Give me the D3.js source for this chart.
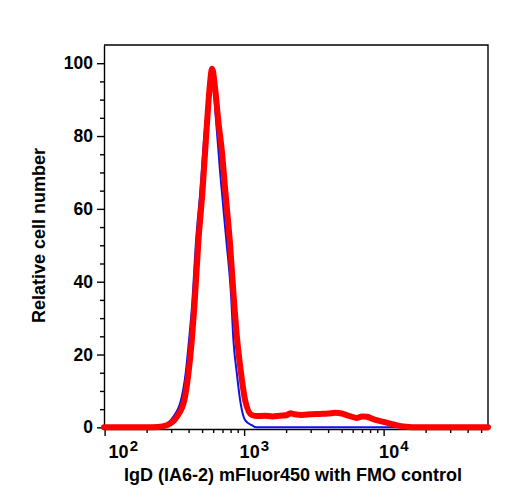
<!DOCTYPE html>
<html>
<head>
<meta charset="utf-8">
<script src="https://cdn.jsdelivr.net/npm/d3@7"></script>
<style>
    body { margin: 0; background: #fff; }
    svg { display: block; font-family: "Liberation Sans", Arial, sans-serif; font-weight: bold; }
    .axis path, .axis line { stroke: #000; stroke-width: 1.4; }
    .axis text { font-size: 17.5px; font-weight: bold; fill: #000; font-family: "Liberation Sans", Arial, sans-serif; }
    .axis--x text { font-size: 18px; }
    .line { fill: none; stroke-linejoin: round; stroke-linecap: round; }
</style>
</head>
<body>
<div id="chart"></div>
<script>

// FMO control (blue)
var fmoX = [99, 150, 200, 240, 258, 305, 353, 381, 403, 423, 453, 484, 525, 560, 590, 630, 673, 743, 807, 838, 887, 936, 1016, 1135, 1219, 2000, 10000, 56000];
var fmoY = [0, 0, 0, 0, 0.3, 2.5, 7.5, 14.8, 24, 33.1, 51.5, 64.3, 82.6, 92, 96, 84, 70, 52, 36, 24, 14.8, 7.5, 2, 0.6, 0, 0, 0, 0];

// IgD stained (red)
var igdX = [99, 150, 200, 240, 279, 329, 373, 399, 422, 440, 471, 502, 540, 565, 590, 620, 654, 692, 731, 794, 852, 887, 951, 1016, 1135, 1250, 1400, 1600, 1800, 2000, 2150, 2300, 2600, 3000, 3500, 4000, 4500, 5000, 5500, 6400, 7000, 7600, 8500, 10000, 11500, 13000, 15000, 16300, 30000, 56000];
var igdY = [0, 0, 0, 0.1, 0.6, 2.9, 7.5, 14.8, 24, 33.1, 51.5, 64.3, 82.6, 93, 98.5, 93, 84, 76, 65.5, 50, 33.1, 25, 14.8, 7.5, 3.4, 3.1, 3.2, 3.0, 3.2, 3.3, 3.9, 3.6, 3.4, 3.6, 3.7, 3.8, 4.0, 3.8, 3.3, 2.6, 3.0, 2.9, 2.2, 1.5, 0.9, 0.4, 0.1, 0, 0, 0];

var yMajor = [0, 20, 40, 60, 80, 100];
var yMinor = [5, 10, 15, 25, 30, 35, 45, 50, 55, 65, 70, 75, 85, 90, 95];
var xMajor = [100, 1000, 10000];
var xMinor = [200, 300, 400, 500, 600, 700, 800, 900,
              2000, 3000, 4000, 5000, 6000, 7000, 8000, 9000,
              20000, 30000, 40000, 50000];

var xTitle = "IgD (IA6-2) mFluor450 with FMO control";
var yTitle = "Relative cell number";

var W = 508, H = 500;
var margin = {top: 45, right: 20, bottom: 71, left: 104}
    , width = W - margin.left - margin.right
    , height = H - margin.top - margin.bottom;

var svg = d3.select("#chart").append("svg")
    .attr("width", W)
    .attr("height", H);

var g = svg.append("g")
    .attr("transform", "translate(" + margin.left + "," + margin.top + ")");

var x = d3.scaleLog()
    .domain([99, 56000])
    .range([0, width]);

var y = d3.scaleLinear()
    .domain([-0.45, 105])
    .range([height, 0]);

// frame (top and right)
g.append("path")
    .attr("d", "M0,0H" + width + "V" + height)
    .attr("fill", "none")
    .attr("stroke", "#000")
    .attr("stroke-width", 1.4);

// y axis
g.append("g")
    .attr("class", "axis axis--y")
    .call(d3.axisLeft(y)
        .tickValues(yMajor)
        .tickSizeInner(7)
        .tickSizeOuter(0)
        .tickPadding(4)
        .tickFormat(d3.format("d")));

g.append("g")
    .attr("class", "axis axis--y-minor")
    .call(d3.axisLeft(y)
        .tickValues(yMinor)
        .tickSizeInner(4)
        .tickSizeOuter(0)
        .tickFormat(""))
    .select(".domain").remove();

// x axis
var xAxisG = g.append("g")
    .attr("class", "axis axis--x")
    .attr("transform", "translate(0," + height + ")")
    .call(d3.axisBottom(x)
        .tickValues(xMajor)
        .tickSizeInner(7)
        .tickSizeOuter(0)
        .tickFormat(""));

xAxisG.selectAll(".tick").each(function(d) {
    var tx = d > 100 ? -5 : 3.5;
    var t = d3.select(this).append("text")
        .attr("x", tx)
        .attr("y", 29.3)
        .attr("text-anchor", "start");
    t.append("tspan").text("10");
    t.append("tspan")
        .attr("dx", 1)
        .attr("dy", -7)
        .style("font-size", "15px")
        .text(Math.round(Math.log10(d)));
});

g.append("g")
    .attr("class", "axis axis--x-minor")
    .attr("transform", "translate(0," + height + ")")
    .call(d3.axisBottom(x)
        .tickValues(xMinor)
        .tickSizeInner(4)
        .tickSizeOuter(0)
        .tickFormat(""))
    .select(".domain").remove();

// curves
var line_gen = d3.line()
    .x(d => x(d[0]))
    .y(d => y(d[1]))
    .curve(d3.curveMonotoneX);

g.append("path")
    .attr("class", "line fmo")
    .attr("d", line_gen(d3.zip(fmoX, fmoY)))
    .attr("stroke", "#1010e8")
    .attr("stroke-width", 2);

g.append("path")
    .attr("class", "line igd")
    .attr("d", line_gen(d3.zip(igdX, igdY)))
    .attr("stroke", "#ff0000")
    .attr("stroke-width", 6);

// titles
svg.append("text")
    .attr("x", 293)
    .attr("y", 481)
    .attr("text-anchor", "middle")
    .style("font-size", "18px")
    .text(xTitle);

svg.append("text")
    .attr("transform", "translate(45,235.5) rotate(-90)")
    .attr("text-anchor", "middle")
    .style("font-size", "18px")
    .text(yTitle);

</script>
</body>
</html>
